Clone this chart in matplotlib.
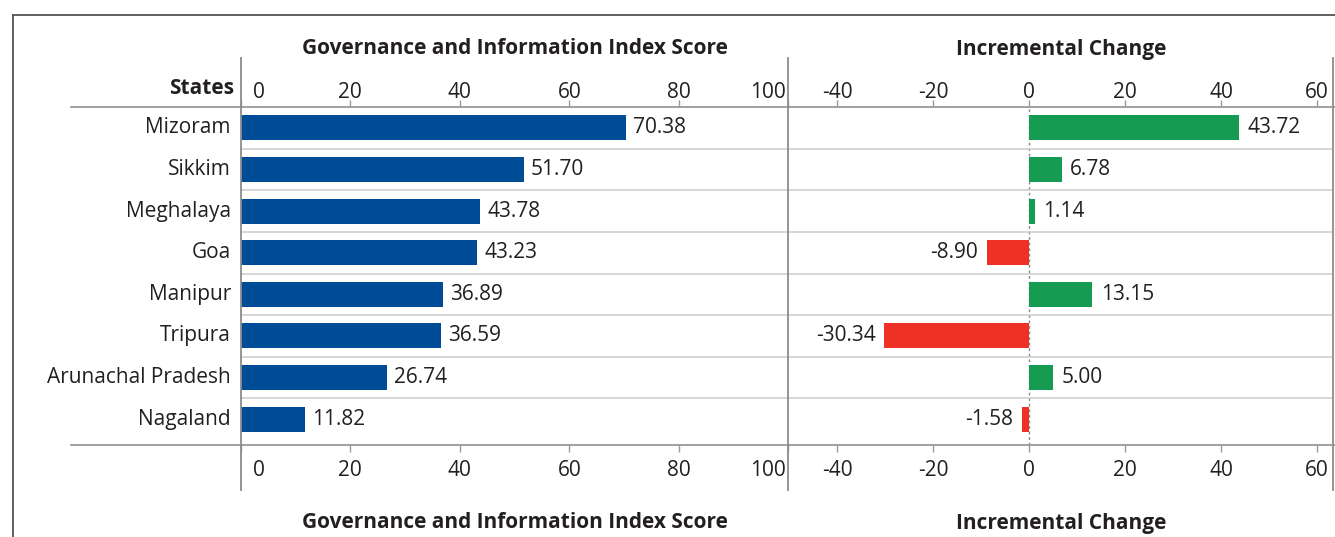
import matplotlib.pyplot as plt
from matplotlib.lines import Line2D
import matplotlib.transforms as mtransforms

states = ["Mizoram", "Sikkim", "Meghalaya", "Goa", "Manipur", "Tripura",
          "Arunachal Pradesh", "Nagaland"]
scores = [70.38, 51.70, 43.78, 43.23, 36.89, 36.59, 26.74, 11.82]
changes = [43.72, 6.78, 1.14, -8.90, 13.15, -30.34, 5.00, -1.58]
score_ticks = [0, 20, 40, 60, 80, 100]
change_ticks = [-40, -20, 0, 20, 40, 60]

W, H = 1335, 537
TXT = "#231f20"
BLUE = "#004c97"
GREEN = "#169b52"
RED = "#ee3124"

plt.rcParams["font.family"] = ["Open Sans", "DejaVu Sans"]
plt.rcParams["font.size"] = 15
plt.rcParams["text.color"] = TXT
plt.rcParams["axes.unicode_minus"] = False


def fx(px):
    return px / W


def fy(py):
    return 1 - py / H


def fig_line(fig, x0, y0, x1, y1, color, lw=1.1, **kw):
    fig.add_artist(Line2D([fx(x0), fx(x1)], [fy(y0), fy(y1)],
                          transform=fig.transFigure, color=color, lw=lw, **kw))


def shift(fig, dx, dy):
    # offset in pixels (y up)
    return mtransforms.ScaledTranslation(dx / 100, dy / 100, fig.dpi_scale_trans)


def main():
    fig = plt.figure(figsize=(W / 100, H / 100), dpi=100)

    top, bottom = 107, 445
    x_left, x_mid, x_right = 240.5, 788.5, 1333
    ax1 = fig.add_axes([fx(x_left), fy(bottom), fx(x_mid - x_left), (bottom - top) / H])
    ax2 = fig.add_axes([fx(x_mid), fy(bottom), fx(x_right - x_mid), (bottom - top) / H])

    y = list(range(len(states)))

    ax1.barh(y, scores, height=0.6, color=BLUE)
    for yi, v in zip(y, scores):
        ax1.annotate(f"{v:.2f}", (v, yi), xytext=(5, 0), textcoords="offset points",
                     va="center", ha="left", color=TXT)

    colors = [GREEN if v >= 0 else RED for v in changes]
    ax2.barh(y, changes, height=0.6, color=colors)
    for yi, v in zip(y, changes):
        off = 6 if v >= 0 else -6
        ax2.annotate(f"{v:.2f}", (v, yi), xytext=(off, 0), textcoords="offset points",
                     va="center", ha="left" if v >= 0 else "right", color=TXT)
    ax2.axvline(0, color="#888888", lw=1, ls=(0, (2, 2)), zorder=0)

    ax1.set_xlim(0, 100)
    ax2.set_xlim(-50.2, 63.3)
    for ax, ticks in ((ax1, score_ticks), (ax2, change_ticks)):
        ax.set_ylim(7.62, -0.5)
        ax.set_xticks(ticks)
        ax.set_yticks([])
        ax.tick_params(axis="x", top=True, labeltop=True, bottom=True, labelbottom=True,
                       direction="out", length=5, width=1, color="#999999",
                       labelcolor=TXT, pad=6)
        for s in ax.spines.values():
            s.set_visible(False)
        for i in range(len(states) - 1):
            ax.axhline(i + 0.5, color="#cccccc", lw=1.1, zorder=0)
        # top labels sit closer to the rule than the bottom ones
        for t in ax.xaxis.get_major_ticks():
            t.label2.set_transform(t.label2.get_transform() + shift(fig, 0, -11))

    # nudge end labels of the score axis inside the panel
    ticks1 = ax1.xaxis.get_major_ticks()
    for lab in (ticks1[0].label1, ticks1[0].label2):
        lab.set_ha("left")
        lab.set_transform(lab.get_transform() + shift(fig, 12, 0))
    for lab in (ticks1[-1].label1, ticks1[-1].label2):
        lab.set_ha("right")
        lab.set_transform(lab.get_transform() + shift(fig, -3, 0))

    # state labels
    for yi, name in zip(y, states):
        ax1.annotate(name, (0, yi), xycoords=("axes fraction", "data"), xytext=(-7, 0),
                     textcoords="offset points", ha="right", va="center", color=TXT)
    fig.text(fx(234), fy(89), "States", ha="right", va="center", fontweight="bold")

    # titles
    for yy in (49, 523):
        fig.text(fx((x_left + x_mid) / 2), fy(yy), "Governance and Information Index Score",
                 ha="center", va="center", fontweight="bold")
        fig.text(fx((x_mid + x_right) / 2), fy(yy), "Incremental Change",
                 ha="center", va="center", fontweight="bold")

    # table rules and frame
    fig_line(fig, 71, top, W, top, "#999999", lw=1.3)
    fig_line(fig, 71, bottom, W, bottom, "#999999", lw=1.3)
    for xx in (x_left, x_mid, x_right):
        fig_line(fig, xx, 58, xx, 490, "#8c8c8c", lw=1.3)
    fig_line(fig, 13, 15, W, 15, "#555555", lw=1.3)
    fig_line(fig, 13, 15, 13, H, "#555555", lw=1.3)

    fig.savefig("out.png", dpi=100)


if __name__ == "__main__":
    main()
